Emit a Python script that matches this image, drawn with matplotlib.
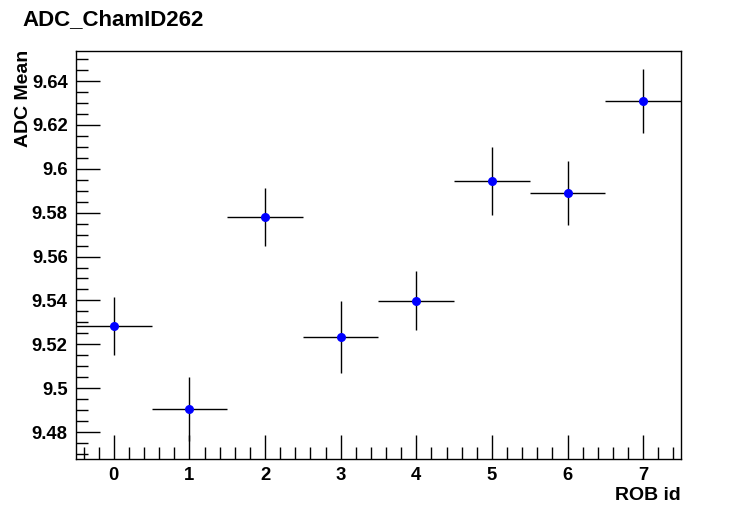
import matplotlib
matplotlib.use("Agg")
import matplotlib.pyplot as plt
from matplotlib.ticker import MultipleLocator, FuncFormatter

# ADC mean per ROB
rob_id = [0, 1, 2, 3, 4, 5, 6, 7]
adc_mean = [9.5284, 9.4906, 9.5780, 9.5234, 9.5398, 9.5944, 9.5890, 9.6309]
adc_err = [0.0132, 0.0146, 0.0132, 0.0164, 0.0134, 0.0155, 0.0144, 0.0146]
x_err = [0.5] * len(rob_id)

plt.rcParams["font.family"] = ["Liberation Sans", "DejaVu Sans"]
plt.rcParams["font.weight"] = "bold"

fig = plt.figure(figsize=(7.56, 5.11), dpi=100)
ax = fig.add_axes([76 / 756, 1 - 459 / 511, 605 / 756, 408 / 511])

ax.errorbar(rob_id, adc_mean, xerr=x_err, yerr=adc_err, fmt="o",
            color="blue", ecolor="black", elinewidth=1, capsize=0,
            markersize=6.5, markeredgewidth=0)

ax.set_xlim(-0.5, 7.5)
ax.set_ylim(9.4677, 9.6537)

ax.xaxis.set_major_locator(MultipleLocator(1))
ax.xaxis.set_minor_locator(MultipleLocator(0.2))
ax.yaxis.set_major_locator(MultipleLocator(0.02))
ax.yaxis.set_minor_locator(MultipleLocator(0.005))
ax.yaxis.set_major_formatter(FuncFormatter(lambda v, p: f"{v:.2f}".rstrip("0")))

ax.tick_params(which="both", direction="in", top=False, right=False,
               width=1, labelsize=13.3, pad=6)
ax.tick_params(which="major", length=17)
ax.tick_params(which="minor", length=8.5)
for lab in ax.get_xticklabels() + ax.get_yticklabels():
    lab.set_fontweight("bold")
for s in ax.spines.values():
    s.set_linewidth(1)

fig.text(22 / 756, 1 - 25 / 511, "ADC_ChamID262", fontsize=16,
         fontweight="bold", ha="left", va="baseline")
fig.text(681 / 756, 1 - 500 / 511, "ROB id", fontsize=14,
         fontweight="bold", ha="right", va="baseline")
fig.text(28 / 756, 1 - 50 / 511, "ADC Mean", fontsize=14,
         fontweight="bold", ha="right", va="baseline", rotation=90,
         rotation_mode="anchor")

fig.savefig("out.png", dpi=100)
